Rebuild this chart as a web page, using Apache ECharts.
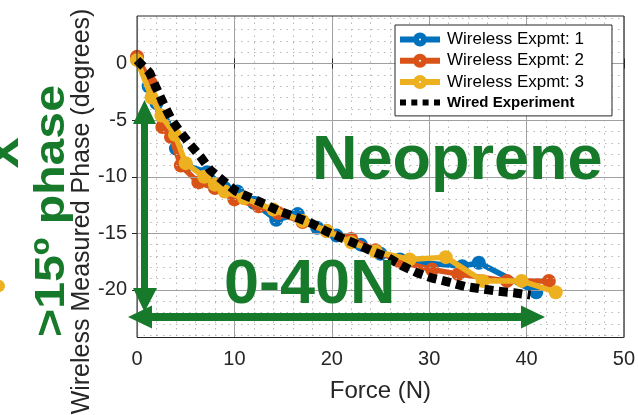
<!DOCTYPE html>
<html>
<head>
<meta charset="utf-8">
<script src="https://cdn.jsdelivr.net/npm/echarts@6/dist/echarts.min.js"></script>
<style>
html,body{margin:0;padding:0;background:#fff;}
#c{width:638px;height:415px;}
</style>
</head>
<body>
<div id="c"></div>
<script>
// ---- data ----
const xTicks = [0, 10, 20, 30, 40, 50];
const yTicks = [-20, -15, -10, -5, 0];
const yMinor = [-24, -23, -22, -21, -19, -18, -17, -16, -14, -13, -12, -11, -9, -8, -7, -6, -4, -3, -2, -1, 1, 2, 3, 4];

const force1 = [0, 1.2, 2.0, 2.8, 4.0, 5.0, 7.2, 9.0, 10.3, 12.0, 14.3, 16.5, 18.5, 20.5, 23.0, 25.0, 27.0, 29.3, 33.4, 35.1, 41.0];
const phase1 = [0.5, -2.0, -3.5, -5.3, -7.5, -9.0, -9.6, -11.0, -11.3, -12.3, -13.8, -13.3, -14.5, -15.2, -16.0, -16.8, -17.3, -17.6, -17.9, -17.6, -20.2];

const force2 = [0, 1.4, 2.6, 3.5, 4.5, 6.3, 8.0, 10.0, 12.5, 14.5, 17.0, 19.5, 22.0, 24.5, 27.0, 30.3, 33.0, 38.0, 42.3];
const phase2 = [0.6, -1.7, -5.6, -6.5, -9.0, -10.5, -11.0, -12.0, -12.6, -13.2, -14.0, -14.8, -15.5, -16.5, -17.5, -18.2, -18.6, -19.2, -19.2];

const force3 = [0, 1.5, 2.5, 3.9, 5.0, 6.9, 8.0, 9.0, 11.0, 14.0, 17.0, 19.5, 22.0, 24.5, 28.0, 31.7, 35.5, 39.5, 43.0];
const phase3 = [0.3, -3.0, -4.6, -6.3, -8.8, -10.0, -10.7, -11.3, -11.9, -12.9, -13.9, -14.8, -15.8, -16.6, -17.3, -17.1, -19.2, -19.2, -20.2];

const forceW = [0, 1.3, 2.0, 2.7, 3.5, 4.4, 5.5, 6.5, 7.5, 8.9, 10.2, 11.8, 13.3, 14.8, 16.4, 17.9, 19.4, 21.0, 22.7, 24.2, 25.7, 27.3, 28.8, 30.3, 32.0, 33.7, 35.3, 37.0, 38.7, 40.4];
const phaseW = [0.3, -0.8, -2.2, -3.5, -4.9, -6.0, -7.2, -8.2, -9.4, -10.4, -11.3, -11.9, -12.5, -13.1, -13.6, -14.1, -14.8, -15.4, -16.0, -16.6, -17.1, -17.9, -18.5, -18.95, -19.3, -19.7, -19.9, -20.1, -20.25, -20.45];

const names = ['Wireless Expmt: 1', 'Wireless Expmt: 2', 'Wireless Expmt: 3', 'Wired Experiment'];
const colors = ['#0072BD', '#D95319', '#EDB120', '#000000'];
// ----------------------------------------

const zip = (a, b) => a.map((v, i) => [v, b[i]]);
const FONT = 'Liberation Sans, Arial, Helvetica, sans-serif';
const GREEN = '#177a2b';

// legend icons: thick line with a filled ring marker, and four squares
const ICON_LINE_MARK = 'path://M0,4 L40,4 L40,10 L0,10 Z M13,7 A7,7 0 1,1 27,7 A7,7 0 1,1 13,7 Z ' +
  'M19,7 A1,1 0 1,0 21,7 A1,1 0 1,0 19,7 Z M19,7 A1,1 0 1,0 21,7 A1,1 0 1,0 19,7 Z';
const ICON_SQUARES = 'path://M0,0 L6,0 L6,6 L0,6 Z M11.3,0 L17.3,0 L17.3,6 L11.3,6 Z M22.6,0 L28.6,0 L28.6,6 L22.6,6 Z M34,0 L40,0 L40,6 L34,6 Z';

const chart = echarts.init(document.getElementById('c'), null, {renderer: 'canvas'});

function wirelessSeries(i, f, p) {
  return {
    name: names[i], type: 'line', data: zip(f, p), z: 3 + i,
    symbol: 'circle', symbolSize: 14, showSymbol: true,
    lineStyle: {color: colors[i], width: 5.5},
    itemStyle: {color: colors[i], borderWidth: 0},
    emphasis: {disabled: true}, animation: false
  };
}

const gridSeries = {
  type: 'line', data: [], silent: true, z: 1, animation: false,
  markLine: {
    silent: true, symbol: 'none', label: {show: false}, animation: false,
    data: [
      ...yMinor.map(v => ({yAxis: v, lineStyle: {color: '#b8b8b8', width: 1, type: [1.5, 5]}})),
      ...yTicks.map(v => ({yAxis: v, lineStyle: {color: '#a0a0a0', width: 1, type: 'solid'}}))
    ]
  }
};

chart.setOption({
  animation: false,
  backgroundColor: '#ffffff',
  grid: {left: 137, top: 16, right: 12.5, bottom: 77.5, show: true, borderColor: '#262626', borderWidth: 1, backgroundColor: 'transparent', z: 10},
  xAxis: [{
    type: 'value', min: 0, max: 50, interval: 10,
    name: 'Force (N)', nameLocation: 'middle', nameGap: 42,
    nameTextStyle: {fontFamily: FONT, fontSize: 24, color: '#262626'},
    axisLine: {show: false},
    axisTick: {show: true, inside: true, length: 5, lineStyle: {color: '#262626'}},
    axisLabel: {fontFamily: FONT, fontSize: 20, color: '#262626', margin: 12},
    splitLine: {show: true, lineStyle: {color: '#a0a0a0', width: 1}},
    minorTick: {show: false, splitNumber: 5},
    minorSplitLine: {show: true, lineStyle: {color: '#b8b8b8', width: 1, type: [1.5, 5]}}
  }, {
    type: 'value', min: 0, max: 50, interval: 10, position: 'top',
    axisLine: {show: false}, axisLabel: {show: false}, splitLine: {show: false},
    axisTick: {show: true, inside: true, length: 5, lineStyle: {color: '#262626'}}
  }],
  yAxis: [{
    type: 'value', min: -24.2, max: 4.2,
    axisLine: {show: false},
    axisTick: {show: true, inside: true, length: 5, customValues: yTicks, lineStyle: {color: '#262626'}},
    axisLabel: {fontFamily: FONT, fontSize: 20, color: '#262626', margin: 10, customValues: yTicks},
    splitLine: {show: false}
  }, {
    type: 'value', min: -24.2, max: 4.2, position: 'right',
    axisLine: {show: false}, axisLabel: {show: false}, splitLine: {show: false},
    axisTick: {show: true, inside: true, length: 5, customValues: yTicks, lineStyle: {color: '#262626'}}
  }],
  legend: {
    orient: 'vertical', left: 395, top: 25,
    padding: [6, 28, 6, 5], itemGap: 4.3, itemWidth: 40, itemHeight: 14,
    symbolKeepAspect: true,
    backgroundColor: '#ffffff', borderColor: '#262626', borderWidth: 1,
    textStyle: {fontFamily: FONT, fontSize: 17, color: '#000000', padding: [0, 0, 0, 2]},
    data: [
      {name: names[0], icon: ICON_LINE_MARK, itemStyle: {color: colors[0]}},
      {name: names[1], icon: ICON_LINE_MARK, itemStyle: {color: colors[1]}},
      {name: names[2], icon: ICON_LINE_MARK, itemStyle: {color: colors[2]}},
      {name: names[3], icon: ICON_SQUARES, itemStyle: {color: colors[3]}, textStyle: {fontWeight: 'bold', fontSize: 15}}
    ],
    z: 20
  },
  series: [
    gridSeries,
    wirelessSeries(0, force1, phase1),
    wirelessSeries(1, force2, phase2),
    wirelessSeries(2, force3, phase3),
    {
      name: names[3], type: 'line', data: zip(forceW, phaseW), z: 7,
      symbol: 'none', showSymbol: false,
      lineStyle: {color: '#000000', width: 9, type: [9, 5.5], cap: 'butt'},
      itemStyle: {color: '#000000'},
      emphasis: {disabled: true}, animation: false
    }
  ],
  graphic: [
    {type: 'text', z: 100, x: 82, y: 211.5, rotation: Math.PI / 2,
      style: {text: 'Wireless Measured Phase (degrees)', font: '25px ' + FONT, fill: '#262626', align: 'center', verticalAlign: 'middle'}},
    {type: 'text', z: 100, x: 312, y: 162,
      style: {text: 'Neoprene', font: 'bold 63px ' + FONT, fill: GREEN, align: 'left', verticalAlign: 'middle'}},
    {type: 'text', z: 100, x: 224, y: 286,
      style: {text: '0-40N', font: 'bold 63px ' + FONT, fill: GREEN, align: 'left', verticalAlign: 'middle'}},
    {type: 'text', z: 100, x: 52, y: 211, rotation: Math.PI / 2, scaleX: 1.12,
      style: {text: '>15º phase', font: 'bold 43px ' + FONT, fill: GREEN, align: 'center', verticalAlign: 'middle'}},
    {type: 'text', z: 100, x: 3, y: 153, rotation: Math.PI / 2,
      style: {text: 'x', font: 'bold 56px ' + FONT, fill: GREEN, align: 'center', verticalAlign: 'middle'}},
    {type: 'circle', z: 100, shape: {cx: -1, cy: 286, r: 6}, style: {fill: '#EDB120'}},
    // vertical double arrow
    {type: 'polygon', z: 100, shape: {points: [[144.5, 100], [156, 124], [148, 124], [148, 288], [157, 288], [144.5, 312], [133, 288], [141, 288], [141, 124], [133, 124]]}, style: {fill: GREEN}},
    // horizontal double arrow
    {type: 'polygon', z: 100, shape: {points: [[128, 317], [152, 305.5], [152, 313], [521, 313], [521, 305.5], [545, 317], [521, 328.5], [521, 321], [152, 321], [152, 328.5]]}, style: {fill: GREEN}}
  ]
});
</script>
</body>
</html>
